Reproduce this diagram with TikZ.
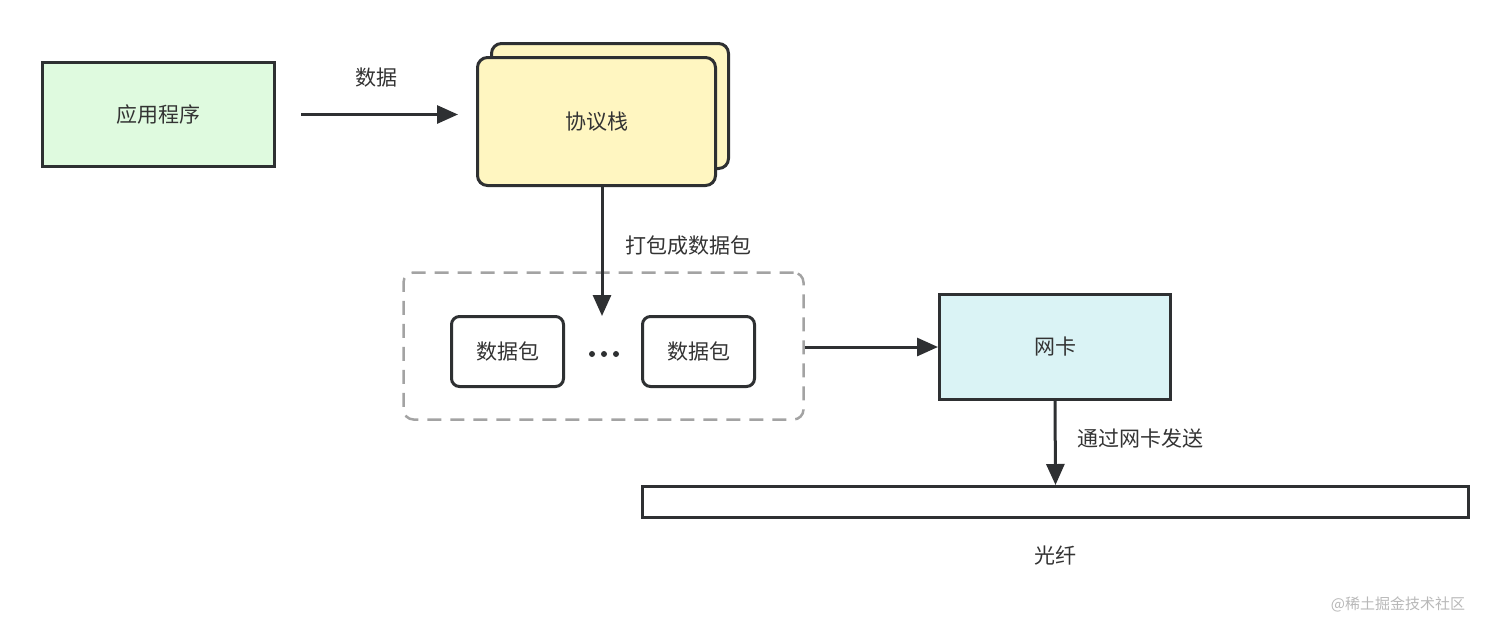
\documentclass[tikz,border=0pt]{standalone}
\usepackage{fontspec}
\setmainfont{Noto Sans CJK SC}
\usetikzlibrary{arrows.meta,positioning}
\definecolor{edgegray}{HTML}{2E3032}
\definecolor{textgray}{HTML}{333333}
\definecolor{appgreen}{HTML}{DFFADF}
\definecolor{stackyellow}{HTML}{FFF6C1}
\definecolor{niccyan}{HTML}{DAF3F5}
\definecolor{dashgray}{HTML}{A3A3A3}
\definecolor{markgray}{HTML}{B8B8B8}
\tikzset{
  box/.style={draw=edgegray, line width=3pt, inner sep=0pt, text=textgray,
    font=\fontsize{21}{25}\selectfont},
  card/.style={box, rounded corners=10pt, fill=stackyellow},
  pkt/.style={box, rounded corners=8pt, fill=white, minimum width=112pt, minimum height=70pt},
  lbl/.style={text=textgray, font=\fontsize{21}{25}\selectfont},
  flow/.style={draw=edgegray, line width=3pt, -{Triangle[length=21pt,width=18pt]}},
}
\begin{document}
\begin{tikzpicture}[x=1pt,y=-1pt]
    \useasboundingbox (0,0) rectangle (1512,633);
    \node[box, fill=appgreen, minimum width=232pt, minimum height=104pt] (app) at (158.5,114.5) {应用程序};
    \node[card, minimum width=237pt, minimum height=125pt] (stackback) at (610,106) {};
    \node[card, minimum width=238pt, minimum height=128pt] (stack) at (596.5,121.5) {协议栈};
    \node[draw=dashgray, line width=2.5pt, dash pattern=on 14pt off 9pt, rounded corners=10pt,
      minimum width=400pt, minimum height=147pt] (group) at (603.5,346) {};
    \node[pkt] (pkta) at (507.5,351.5) {数据包};
    \node[pkt] (pktb) at (698.5,351.5) {数据包};
    \foreach \dx in {-12,0,12}
        \fill[edgegray] (604+\dx,354) circle (3pt);
    \node[box, fill=niccyan, minimum width=231pt, minimum height=105pt] (nic) at (1055,347) {网卡};
    \node[box, fill=white, minimum width=826pt, minimum height=31pt] (fiber) at (1055.5,502) {};
    \node[lbl] (fiberlbl) at (1055,556) {光纤};
    \coordinate (packin) at (602,316);
    \draw[flow, shorten <=25pt, shorten >=18pt] (app.east) -- node[lbl, above=22pt] {数据} (stack.west |- app.east);
    \draw[flow] (stack.south -| packin) -- (packin);
    \node[lbl] at (688,246) {打包成数据包};
    \draw[flow] (group.east |- nic.west) -- (nic.west);
    \draw[flow] (nic.south) -- (fiber.north);
    \node[lbl] at (1140,438) {通过网卡发送};
    \node[text=markgray, font=\fontsize{15}{18}\selectfont] (mark) at (1398,604) {@稀土掘金技术社区};
\end{tikzpicture}
\end{document}
